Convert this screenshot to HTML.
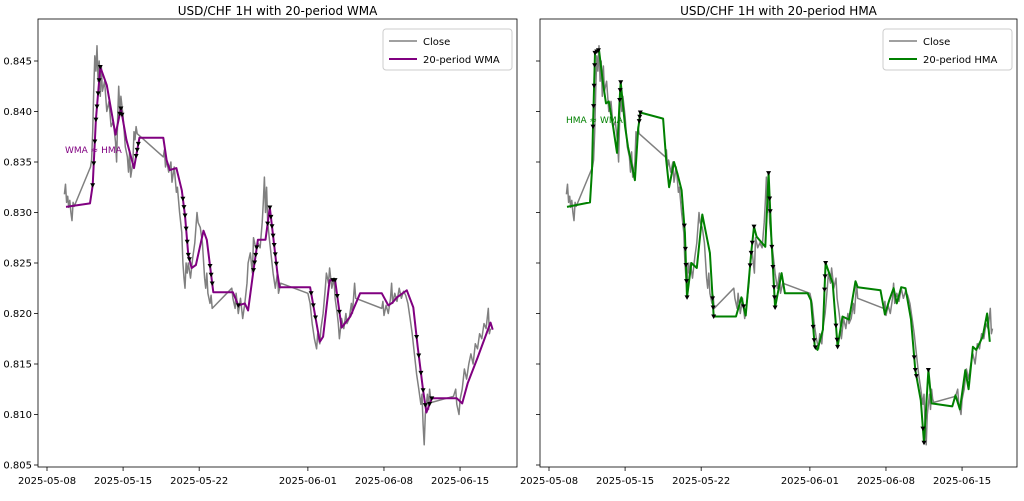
<!DOCTYPE html>
<html><head><meta charset="utf-8">
<style>
body{margin:0;background:#fff;}
svg{font-family:"DejaVu Sans","Liberation Sans",sans-serif;}
</style></head>
<body>
<svg id="chart" width="1024" height="496" viewBox="0 0 1024 496" xmlns="http://www.w3.org/2000/svg"></svg>
<script>
const xTickLabels=["2025-05-08","2025-05-15","2025-05-22","2025-06-01","2025-06-08","2025-06-15"];
const xTickDays=[0,7,14,24,31,38];
const yTicks=[0.805,0.810,0.815,0.820,0.825,0.830,0.835,0.840,0.845];
const closeDays=[1.6,1.7,1.8,1.9,2.0,2.1,2.2,2.3,2.4,2.5,4.0,4.1,4.2,4.3,4.4,4.5,4.6,4.7,4.8,4.9,5.0,5.1,5.3,5.5,5.7,5.9,6.1,6.3,6.4,6.5,6.6,6.7,6.8,7.0,7.1,7.2,7.4,7.5,7.6,7.7,7.9,8.0,8.1,8.2,8.3,10.7,10.8,10.9,11.0,11.2,11.4,11.5,11.7,11.9,12.0,12.2,12.4,12.5,12.6,12.7,12.8,12.9,13.0,13.2,13.4,13.6,13.8,13.9,14.1,14.3,14.5,14.6,14.7,14.8,15.0,15.1,15.2,17.0,17.1,17.3,17.4,17.6,17.8,18.0,18.2,18.4,18.5,18.7,18.9,19.0,19.2,19.4,19.6,19.8,19.9,20.0,20.1,20.2,20.3,20.5,20.7,20.8,21.0,21.2,21.3,21.5,24.0,24.2,24.4,24.6,24.8,24.9,25.1,25.2,25.4,25.6,25.7,25.9,26.0,26.2,26.4,26.5,26.7,26.8,26.9,27.1,27.3,27.5,27.6,27.8,28.0,28.1,28.3,28.4,30.8,30.9,31.0,31.2,31.4,31.6,31.7,31.8,32.0,32.2,32.4,32.6,32.8,33.0,33.2,33.4,33.6,33.8,34.0,34.2,34.4,34.5,34.6,34.7,34.8,35.0,35.1,35.2,35.3,35.4,37.4,37.6,37.7,37.9,38.0,38.2,38.4,38.6,38.8,39.0,39.2,39.4,39.6,39.8,40.0,40.2,40.4,40.6,40.7,40.8];
const closeVals=[.8318,.8328,.8310,.8316,.8305,.8312,.8300,.8292,.8310,.8306,.8345,.8352,.8380,.8420,.8455,.8440,.8465,.8430,.8450,.8415,.8445,.8420,.8430,.8400,.8410,.8385,.8390,.8370,.8350,.8395,.8425,.8400,.8415,.8395,.8380,.8365,.8355,.8340,.8360,.8335,.8350,.8380,.8372,.8385,.8378,.8355,.8362,.8345,.8352,.8340,.8350,.8330,.8345,.8320,.8325,.8300,.8280,.8250,.8235,.8225,.8250,.8240,.8250,.8235,.8255,.8270,.8300,.8290,.8285,.8270,.8235,.8225,.8240,.8220,.8210,.8218,.8205,.8225,.8215,.8205,.8220,.8200,.8215,.8195,.8210,.8230,.8250,.8260,.8240,.8275,.8265,.8270,.8265,.8290,.8310,.8335,.8300,.8325,.8290,.8270,.8250,.8240,.8225,.8240,.8220,.8230,.8220,.8210,.8190,.8175,.8165,.8180,.8170,.8185,.8200,.8225,.8240,.8230,.8245,.8225,.8235,.8215,.8200,.8190,.8175,.8195,.8185,.8200,.8190,.8195,.8210,.8200,.8230,.8215,.8205,.8212,.8198,.8208,.8200,.8215,.8230,.8210,.8220,.8212,.8225,.8215,.8222,.8218,.8210,.8195,.8180,.8160,.8140,.8125,.8110,.8120,.8090,.8070,.8100,.8120,.8105,.8125,.8115,.8112,.8118,.8125,.8110,.8100,.8115,.8125,.8145,.8135,.8150,.8160,.8150,.8170,.8165,.8180,.8175,.8190,.8185,.8205,.8180,.8185];
const wmaDays=[1.75,3.96,4.2,4.5,4.9,5.5,6.3,6.8,7.3,8.0,8.5,10.7,11.0,11.3,11.9,12.4,12.7,13.0,13.3,13.7,14.4,14.7,15.3,17.1,17.6,18.2,18.5,19.0,19.4,20.1,20.5,21.2,21.4,21.9,24.2,25.1,25.4,26.0,26.5,27.1,27.9,28.8,30.8,31.4,31.8,32.2,33.1,33.7,34.1,34.6,34.9,35.4,37.7,38.2,38.7,39.6,40.8,41.0];
const wmaVals=[.83055,.8309,.8327,.8392,.8444,.8426,.8377,.8403,.8372,.8344,.8374,.8374,.8352,.8342,.8344,.8322,.8297,.8258,.8245,.8248,.8282,.8273,.8221,.8221,.8208,.8210,.8203,.8243,.8273,.8273,.8305,.8240,.8226,.8226,.8226,.8172,.8177,.8233,.8233,.8186,.8197,.8220,.8220,.8208,.8211,.8216,.8223,.8206,.8167,.8124,.8102,.8116,.8116,.8111,.8131,.8156,.8191,.8184];
const hmaDays=[1.66,3.77,3.96,4.05,4.23,4.6,4.97,5.24,5.5,5.9,6.26,6.53,6.6,7.0,7.27,7.9,8.2,8.4,10.5,10.78,11.05,11.5,11.8,12.2,12.5,12.7,13.1,13.6,14.1,14.8,15.15,17.2,17.7,18.1,18.6,18.86,19.1,19.9,20.2,20.45,20.8,21.4,21.7,23.8,24.1,24.45,24.7,25.2,25.45,26.1,26.55,27.0,27.6,28.2,28.4,30.5,30.9,31.3,31.7,32.0,32.4,32.8,33.3,33.7,34.2,34.5,34.9,35.2,37.1,37.4,37.8,38.3,38.6,39.0,39.3,39.9,40.3,40.55];
const hmaVals=[.83055,.8310,.8342,.8385,.8458,.8461,.8428,.8408,.8410,.8385,.8359,.8418,.8429,.8385,.8365,.8332,.8382,.8399,.8393,.8352,.8325,.8350,.8339,.8322,.8280,.8216,.8250,.8245,.8298,.8260,.8197,.8197,.8216,.8198,.8260,.8286,.8276,.8266,.8339,.8276,.8206,.8240,.8220,.8220,.8213,.8167,.8164,.8184,.8250,.8230,.8167,.8197,.8194,.8232,.8226,.8223,.8199,.8213,.8225,.8210,.8226,.8225,.8194,.8144,.8114,.8072,.8144,.8111,.8108,.8119,.8105,.8144,.8125,.8167,.8164,.8177,.8200,.8172];
const wmaMarkerDays=[4.2,4.3,4.4,4.5,4.6,4.7,4.8,4.9,6.7,6.8,6.9,8.2,8.3,8.4,12.5,12.6,12.7,12.8,12.9,13.0,13.1,15.0,15.1,15.2,17.6,19.0,19.1,19.2,19.3,20.3,20.5,20.6,20.7,20.8,20.9,21.0,21.1,24.3,24.5,24.7,26.3,26.5,26.7,26.9,34.0,34.2,34.4,34.6,34.8,35.2,35.4];
const hmaMarkerDays=[4.05,4.1,4.15,4.2,4.23,4.4,4.55,6.5,6.55,6.6,8.3,8.35,8.4,12.45,12.55,12.6,12.65,12.7,15.05,15.1,15.15,17.9,18.5,18.6,18.7,18.86,20.2,20.3,20.35,20.5,20.6,20.7,20.75,20.8,24.3,24.4,24.5,25.35,25.4,25.45,26.4,26.5,26.55,33.6,33.7,33.8,34.4,34.5,34.9];

const svg=document.getElementById('chart');
const NS='http://www.w3.org/2000/svg';
function mk(tag,attrs,parent,name,txt){const e=document.createElementNS(NS,tag);for(const k in attrs)e.setAttribute(k,attrs[k]);


if(txt!==undefined)e.textContent=txt;(parent||svg).appendChild(e);return e;}
function yScale(v){return 61+(0.845-v)*10100;}
function interp(ds,vs,d){for(let i=1;i<ds.length;i++){if(d<=ds[i]){const t=(d-ds[i-1])/(ds[i]-ds[i-1]);return vs[i-1]+t*(vs[i]-vs[i-1]);}}return vs[vs.length-1];}

function panel(x0,x1,title,maDays,maVals,color,label,annot,annotX,annotY,markerDays,pname,showY){
  const g=mk('g',{},svg,pname);
  const xs=d=>x0+9+d*10.87;
  mk('text',{x:(x0+x1)/2,y:15,'text-anchor':'middle','font-size':12,fill:'#000'},g,pname+'-title',title);
  xTickDays.forEach((d,i)=>{const x=xs(d);
    mk('line',{x1:x,x2:x,y1:467,y2:471,stroke:'#000','stroke-width':0.8},g,'x-tick');
    mk('text',{x:x,y:484,'text-anchor':'middle','font-size':10,fill:'#000'},g,'x-tick-label',xTickLabels[i]);});
  yTicks.forEach(v=>{const y=yScale(v);
    mk('line',{x1:x0-4,x2:x0,y1:y,y2:y,stroke:'#000','stroke-width':0.8},g,'y-tick');
    if(showY)mk('text',{x:x0-6,y:y+3.5,'text-anchor':'end','font-size':10,fill:'#000'},g,'y-tick-label',v.toFixed(3));});
  mk('polyline',{points:closeDays.map((d,i)=>xs(d).toFixed(1)+','+yScale(closeVals[i]).toFixed(1)).join(' '),fill:'none',stroke:'#808080','stroke-width':1.5,'stroke-linejoin':'round'},g,'close-line');
  mk('polyline',{points:maDays.map((d,i)=>xs(d).toFixed(1)+','+yScale(maVals[i]).toFixed(1)).join(' '),fill:'none',stroke:color,'stroke-width':2,'stroke-linejoin':'round'},g,'ma-line');
  markerDays.forEach(d=>{const x=xs(d),y=yScale(interp(maDays,maVals,d));
    mk('path',{d:`M${x-2.5},${y-2} L${x+2.5},${y-2} L${x},${y+2.5} Z`,fill:'#000'},g,'signal-marker');});
  mk('text',{x:annotX,y:annotY,'font-size':9,fill:color},g,'annotation',annot);
  mk('rect',{x:x0,y:19,width:x1-x0,height:448,fill:'none',stroke:'#000','stroke-width':0.8},g,'axes-frame');
  const lg=mk('g',{},g,'legend');
  const lx=x1-134;
  mk('rect',{x:lx,y:29,width:129,height:41,rx:3,fill:'#fff','fill-opacity':0.8,stroke:'#ccc'},lg,'legend-box');
  mk('line',{x1:lx+6,x2:lx+34,y1:41,y2:41,stroke:'#808080','stroke-width':1.5},lg,'legend-close-swatch');
  mk('text',{x:lx+40,y:45,'font-size':10,fill:'#000'},lg,'legend-close-label','Close');
  mk('line',{x1:lx+6,x2:lx+34,y1:59,y2:59,stroke:color,'stroke-width':2},lg,'legend-ma-swatch');
  mk('text',{x:lx+40,y:63,'font-size':10,fill:'#000'},lg,'legend-ma-label',label);
}
panel(38,517,'USD/CHF 1H with 20-period WMA',wmaDays,wmaVals,'#800080','20-period WMA','WMA ≈ HMA',65,153,wmaMarkerDays,'wma-panel',true);
panel(540,1017,'USD/CHF 1H with 20-period HMA',hmaDays,hmaVals,'#008000','20-period HMA','HMA ≈ WMA',566,123,hmaMarkerDays,'hma-panel',false);
</script>
</body></html>
